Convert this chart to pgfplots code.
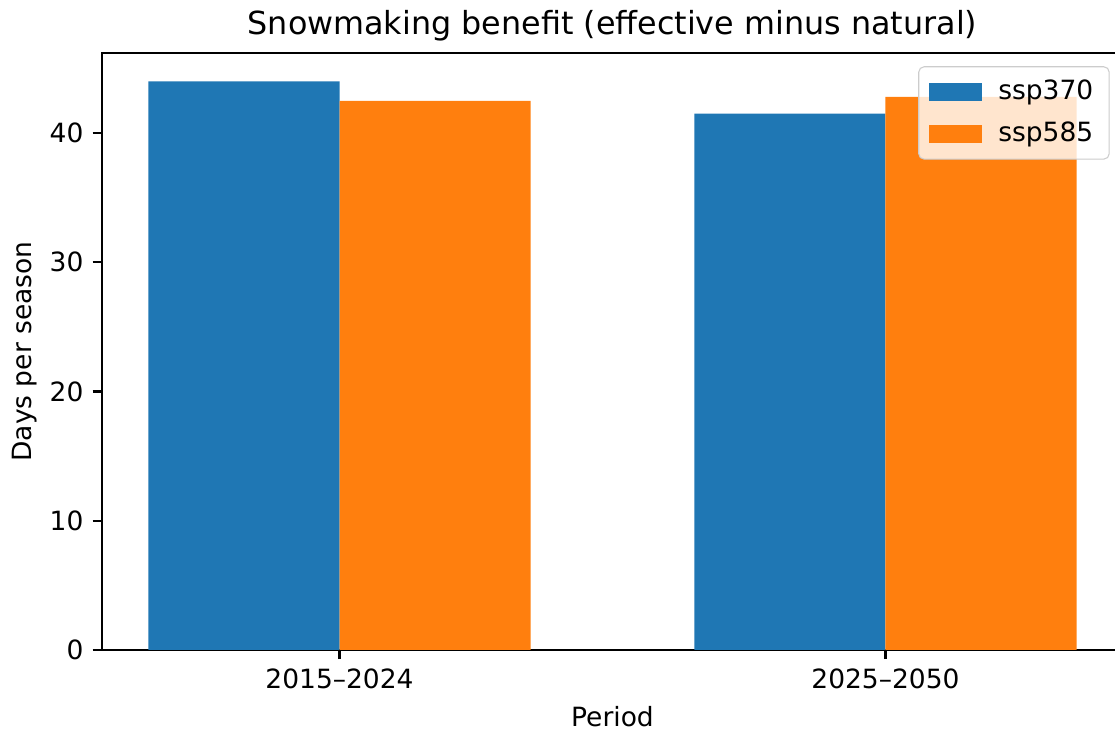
\documentclass[border=0pt]{standalone}
\usepackage{pgfplots}
\pgfplotsset{compat=1.18}
\usepackage{fontspec}
\setmainfont{DejaVu Sans}
\definecolor{c1}{HTML}{1F77B4}
\definecolor{c2}{HTML}{FF7F0E}
\begin{document}
\begin{tikzpicture}
\begin{axis}[
  scale only axis, width=385.3pt, height=225.3pt,
  xmin=-0.435, xmax=1.435, ymin=0, ymax=46.2,
  ybar, bar width=0.35,
  xtick={0,1}, xticklabels={2015–2024,2025–2050},
  ytick={0,10,20,30,40},
  tick align=outside, major tick length=3.5pt,
  tick style={line width=0.8pt, black},
  xtick pos=left, ytick pos=left,
  axis line style={line width=0.8pt},
  /pgf/number format/assume math mode=true,
  tick label style={font=\fontsize{10}{12}\selectfont},
  label style={font=\fontsize{10}{12}\selectfont},
  xlabel={Period}, ylabel={Days per season},
  ylabel style={xshift=0pt, yshift=-2pt},
  title={Snowmaking benefit (effective minus natural)},
  title style={font=\fontsize{12}{14}\selectfont, at={(rel axis cs:0.5,1)}, anchor=base, yshift=1pt},
  legend style={at={(rel axis cs:1,1)}, anchor=north east, xshift=-5pt, yshift=-5pt,
    draw=black!20, fill=white, fill opacity=0.8, text opacity=1, draw opacity=1,
    rounded corners=2pt, font=\fontsize{10}{12}\selectfont, inner xsep=4pt, inner ysep=3pt, row sep=3pt,
    /tikz/every odd column/.append style={column sep=4pt}},
  legend cell align=left,
]
\addplot[fill=c1, draw=none, bar shift=-0.175,
  legend image code/.code={\fill[c1, fill opacity=1, sharp corners] (0pt,-3.5pt) rectangle (20pt,3.5pt);}]
  coordinates {(0,44.0) (1,41.5)};
\addplot[fill=c2, draw=none, bar shift=0.175,
  legend image code/.code={\fill[c2, fill opacity=1, sharp corners] (0pt,-3.5pt) rectangle (20pt,3.5pt);}]
  coordinates {(0,42.5) (1,42.8)};
\legend{ssp370,ssp585}
\coordinate (SW) at (rel axis cs:0,0);
\coordinate (NE) at (rel axis cs:1,1);
\end{axis}
\pgfresetboundingbox
\path ([xshift=-38.5pt,yshift=-30.9pt]SW) rectangle ([xshift=-3pt,yshift=20pt]NE);
\end{tikzpicture}
\end{document}
